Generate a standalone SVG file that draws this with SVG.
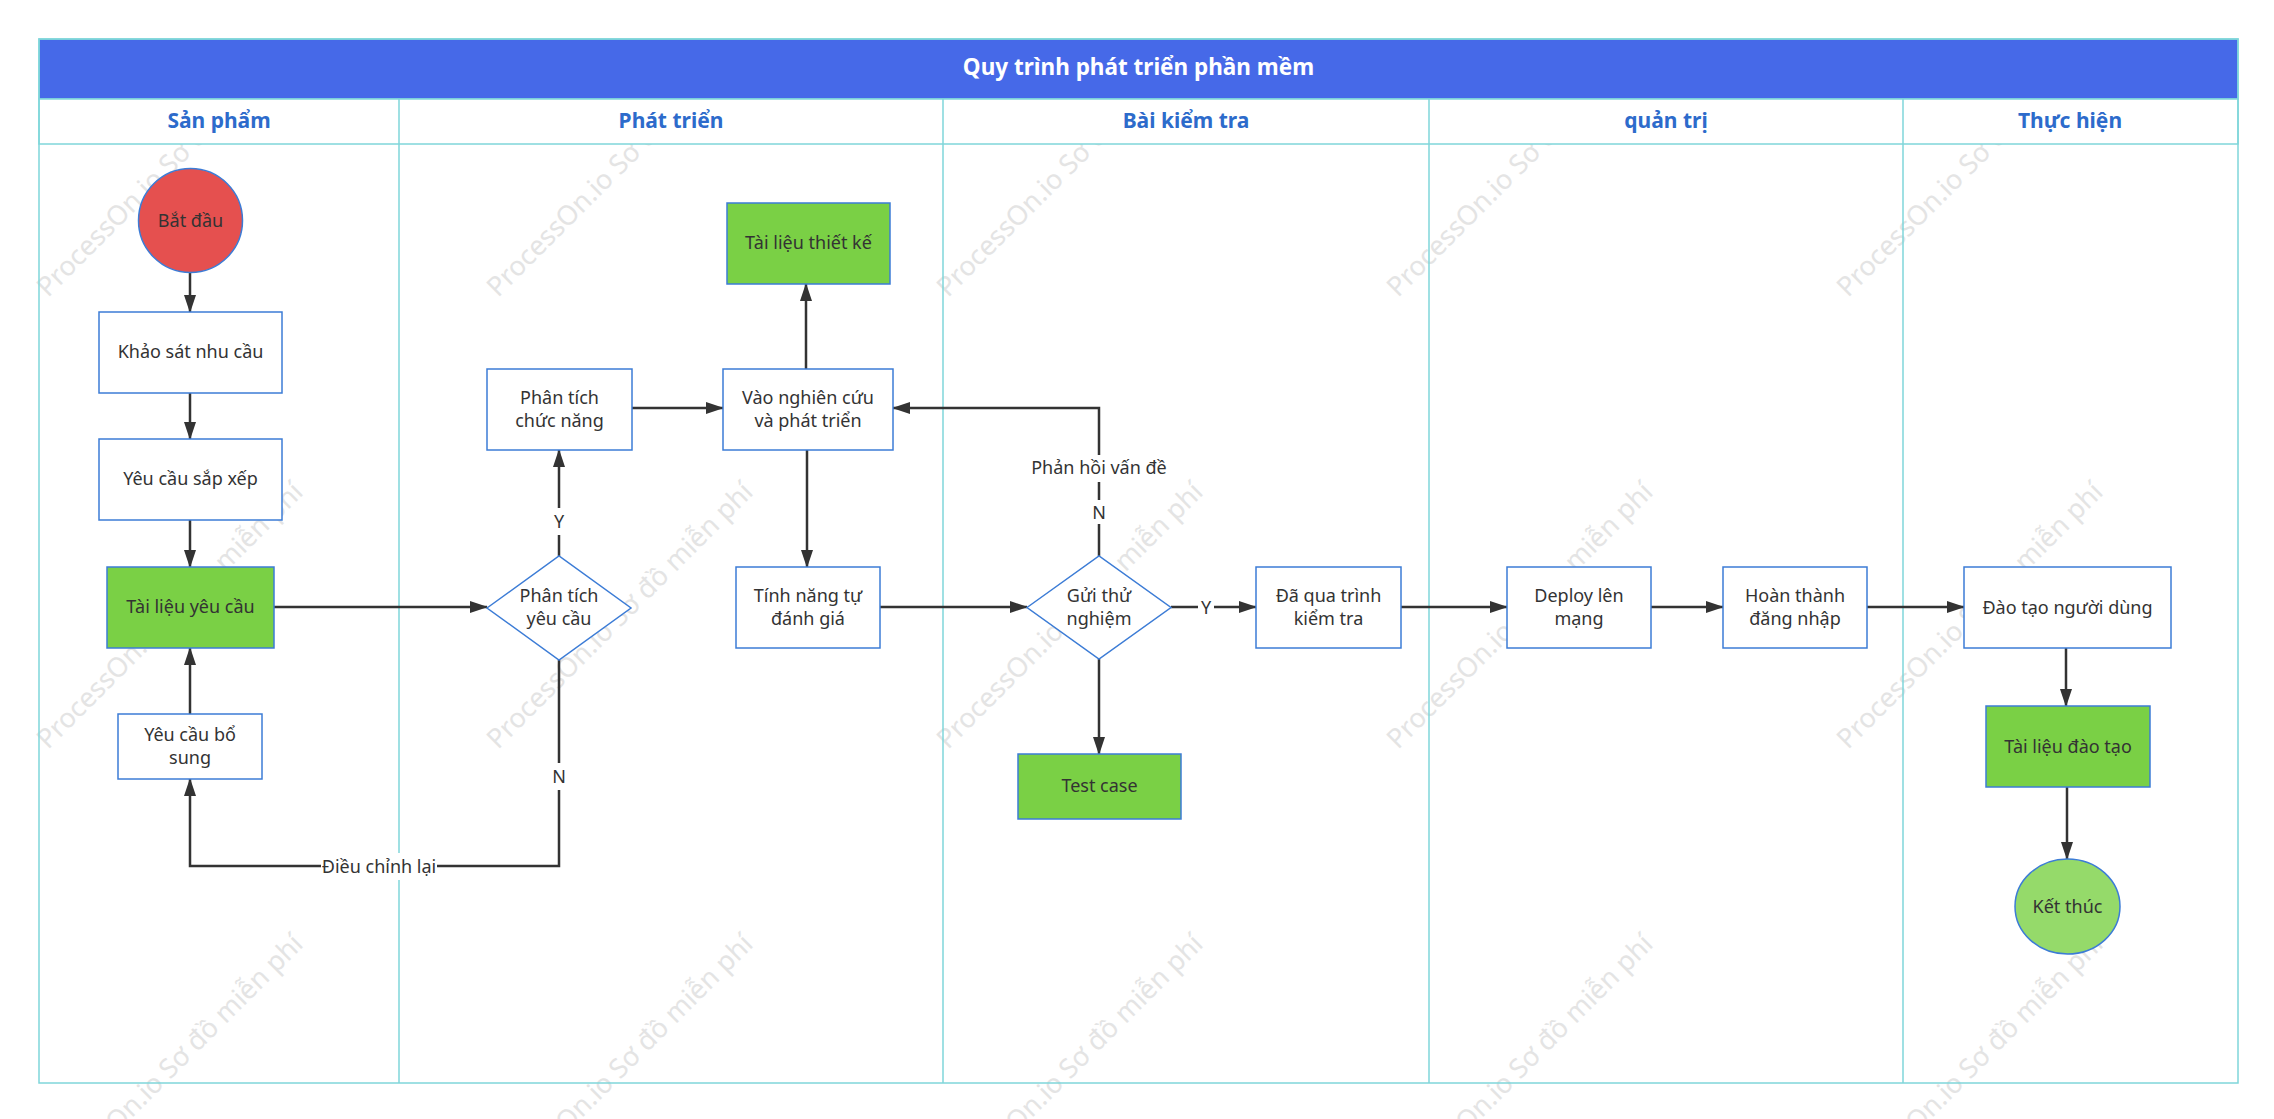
<svg xmlns="http://www.w3.org/2000/svg" width="2274" height="1119" viewBox="0 0 2274 1119">
<style>
.wm{font-family:"Noto Sans","Liberation Sans",sans-serif;font-size:27px;fill:#e4e4e4}
.lane{fill:none;stroke:#7fd6da;stroke-width:1.5}
.hdr{font-family:"Noto Sans","Liberation Sans",sans-serif;font-size:21px;font-weight:bold;fill:#2d6bcb;text-anchor:middle}
.title{font-family:"Noto Sans","Liberation Sans",sans-serif;font-size:22.5px;font-weight:bold;fill:#ffffff;text-anchor:middle}
.box{fill:#ffffff;stroke:#3c7cd6;stroke-width:1.5}
.doc{fill:#7ad045;stroke:#3c7cd6;stroke-width:1.5}
.t{font-family:"Noto Sans","Liberation Sans",sans-serif;font-size:18px;fill:#333333;text-anchor:middle}
.c{fill:none;stroke:#333333;stroke-width:2.5;marker-end:url(#arr)}
.lb{fill:#ffffff}
</style>
<defs>
<marker id="arr" markerUnits="userSpaceOnUse" markerWidth="18" markerHeight="12" refX="17" refY="6" orient="auto">
<path d="M0,0 L18,6 L0,12 Z" fill="#333333"/>
</marker>
<clipPath id="wmclip"><rect x="0" y="39" width="2274" height="1080"/></clipPath>
</defs>
<rect width="2274" height="1119" fill="#ffffff"/>
<g id="watermark" clip-path="url(#wmclip)">
<text class="wm" x="48" y="298" transform="rotate(-45 48 298)">ProcessOn.io Sơ đồ miễn phí</text>
<text class="wm" x="498" y="298" transform="rotate(-45 498 298)">ProcessOn.io Sơ đồ miễn phí</text>
<text class="wm" x="948" y="298" transform="rotate(-45 948 298)">ProcessOn.io Sơ đồ miễn phí</text>
<text class="wm" x="1398" y="298" transform="rotate(-45 1398 298)">ProcessOn.io Sơ đồ miễn phí</text>
<text class="wm" x="1848" y="298" transform="rotate(-45 1848 298)">ProcessOn.io Sơ đồ miễn phí</text>
<text class="wm" x="48" y="750" transform="rotate(-45 48 750)">ProcessOn.io Sơ đồ miễn phí</text>
<text class="wm" x="498" y="750" transform="rotate(-45 498 750)">ProcessOn.io Sơ đồ miễn phí</text>
<text class="wm" x="948" y="750" transform="rotate(-45 948 750)">ProcessOn.io Sơ đồ miễn phí</text>
<text class="wm" x="1398" y="750" transform="rotate(-45 1398 750)">ProcessOn.io Sơ đồ miễn phí</text>
<text class="wm" x="1848" y="750" transform="rotate(-45 1848 750)">ProcessOn.io Sơ đồ miễn phí</text>
<text class="wm" x="48" y="1202" transform="rotate(-45 48 1202)">ProcessOn.io Sơ đồ miễn phí</text>
<text class="wm" x="498" y="1202" transform="rotate(-45 498 1202)">ProcessOn.io Sơ đồ miễn phí</text>
<text class="wm" x="948" y="1202" transform="rotate(-45 948 1202)">ProcessOn.io Sơ đồ miễn phí</text>
<text class="wm" x="1398" y="1202" transform="rotate(-45 1398 1202)">ProcessOn.io Sơ đồ miễn phí</text>
<text class="wm" x="1848" y="1202" transform="rotate(-45 1848 1202)">ProcessOn.io Sơ đồ miễn phí</text>
</g>
<g id="pool">
<rect x="39" y="39" width="2199" height="60" fill="#4669e8" stroke="#7fd6da" stroke-width="1.5"/>
<text class="title" x="1138.5" y="75">Quy trình phát triển phần mềm</text>
<rect x="39" y="99" width="2199" height="45" fill="#ffffff" stroke="#7fd6da" stroke-width="1.5"/>
<rect class="lane" x="39" y="39" width="2199" height="1044"/>
<line class="lane" x1="399" y1="99" x2="399" y2="1083"/>
<line class="lane" x1="943" y1="99" x2="943" y2="1083"/>
<line class="lane" x1="1429" y1="99" x2="1429" y2="1083"/>
<line class="lane" x1="1903" y1="99" x2="1903" y2="1083"/>
<text class="hdr" x="219" y="128">Sản phẩm</text>
<text class="hdr" x="671" y="128">Phát triển</text>
<text class="hdr" x="1186" y="128">Bài kiểm tra</text>
<text class="hdr" x="1666" y="128">quản trị</text>
<text class="hdr" x="2070" y="128">Thực hiện</text>
</g>
<g id="connectors">
<path class="c" d="M190,273 V312"/>
<path class="c" d="M190,393 V439"/>
<path class="c" d="M190,520 V567"/>
<path class="c" d="M190,714 V648"/>
<path class="c" d="M274,607 H487"/>
<path class="c" d="M559,556 V450"/>
<path class="c" d="M559,660 V866 H190 V779"/>
<path class="c" d="M632,408 H723"/>
<path class="c" d="M806,369 V284"/>
<path class="c" d="M807,450 V567"/>
<path class="c" d="M880,607 H1027"/>
<path class="c" d="M1099,556 V408 H893"/>
<path class="c" d="M1171,607 H1256"/>
<path class="c" d="M1099,659 V754"/>
<path class="c" d="M1401,607 H1507"/>
<path class="c" d="M1651,607 H1723"/>
<path class="c" d="M1867,607 H1964"/>
<path class="c" d="M2066,648 V706"/>
<path class="c" d="M2067,787 V859"/>
<g id="labels">
<rect class="lb" x="551" y="508" width="16" height="27"/>
<text class="t" x="559" y="528">Y</text>
<rect class="lb" x="551" y="763" width="16" height="27"/>
<text class="t" x="559" y="783">N</text>
<rect class="lb" x="321" y="853" width="116" height="27"/>
<text class="t" x="379" y="873">Điều chỉnh lại</text>
<rect class="lb" x="1030" y="455" width="138" height="27"/>
<text class="t" x="1099" y="474">Phản hồi vấn đề</text>
<rect class="lb" x="1091" y="500" width="16" height="24"/>
<text class="t" x="1099" y="519">N</text>
<rect class="lb" x="1198" y="596" width="16" height="24"/>
<text class="t" x="1206" y="614">Y</text>
</g>
</g>
<g id="n-batdau"><circle cx="190.5" cy="220.5" r="52" fill="#e5504f" stroke="#3c7cd6" stroke-width="1.5"/><text class="t" x="190.5" y="227">Bắt đầu</text></g>
<g id="n-khaosat"><rect class="box" x="99" y="312" width="183" height="81"/><text class="t" x="190.5" y="358">Khảo sát nhu cầu</text></g>
<g id="n-sapxep"><rect class="box" x="99" y="439" width="183" height="81"/><text class="t" x="190.5" y="485">Yêu cầu sắp xếp</text></g>
<g id="n-tailieuyc"><rect class="doc" x="107" y="567" width="167" height="81"/><text class="t" x="190.5" y="613">Tài liệu yêu cầu</text></g>
<g id="n-bosung"><rect class="box" x="118" y="714" width="144" height="65"/><text class="t" x="190" y="741">Yêu cầu bổ</text><text class="t" x="190" y="764">sung</text></g>
<g id="n-ptyc"><polygon class="box" points="487,608 559,556 631,608 559,660"/><text class="t" x="559" y="602">Phân tích</text><text class="t" x="559" y="625">yêu cầu</text></g>
<g id="n-ptcn"><rect class="box" x="487" y="369" width="145" height="81"/><text class="t" x="559.5" y="404">Phân tích</text><text class="t" x="559.5" y="427">chức năng</text></g>
<g id="n-nghiencuu"><rect class="box" x="723" y="369" width="170" height="81"/><text class="t" x="808" y="404">Vào nghiên cứu</text><text class="t" x="808" y="427">và phát triển</text></g>
<g id="n-tlthietke"><rect class="doc" x="727" y="203" width="163" height="81"/><text class="t" x="808.5" y="249">Tài liệu thiết kế</text></g>
<g id="n-tudanhgia"><rect class="box" x="736" y="567" width="144" height="81"/><text class="t" x="808" y="602">Tính năng tự</text><text class="t" x="808" y="625">đánh giá</text></g>
<g id="n-guithu"><polygon class="box" points="1027,607.5 1099,556 1171,607.5 1099,659"/><text class="t" x="1099" y="602">Gửi thử</text><text class="t" x="1099" y="625">nghiệm</text></g>
<g id="n-testcase"><rect class="doc" x="1018" y="754" width="163" height="65"/><text class="t" x="1099.5" y="792">Test case</text></g>
<g id="n-daqua"><rect class="box" x="1256" y="567" width="145" height="81"/><text class="t" x="1328.5" y="602">Đã qua trình</text><text class="t" x="1328.5" y="625">kiểm tra</text></g>
<g id="n-deploy"><rect class="box" x="1507" y="567" width="144" height="81"/><text class="t" x="1579" y="602">Deploy lên</text><text class="t" x="1579" y="625">mạng</text></g>
<g id="n-hoanthanh"><rect class="box" x="1723" y="567" width="144" height="81"/><text class="t" x="1795" y="602">Hoàn thành</text><text class="t" x="1795" y="625">đăng nhập</text></g>
<g id="n-daotao"><rect class="box" x="1964" y="567" width="207" height="81"/><text class="t" x="2067.5" y="614">Đào tạo người dùng</text></g>
<g id="n-tldaotao"><rect class="doc" x="1986" y="706" width="164" height="81"/><text class="t" x="2068" y="753">Tài liệu đào tạo</text></g>
<g id="n-ketthuc"><ellipse cx="2067.5" cy="906.5" rx="52.5" ry="47.5" fill="#95da6a" stroke="#3c7cd6" stroke-width="1.5"/><text class="t" x="2067.5" y="913">Kết thúc</text></g>
</svg>
